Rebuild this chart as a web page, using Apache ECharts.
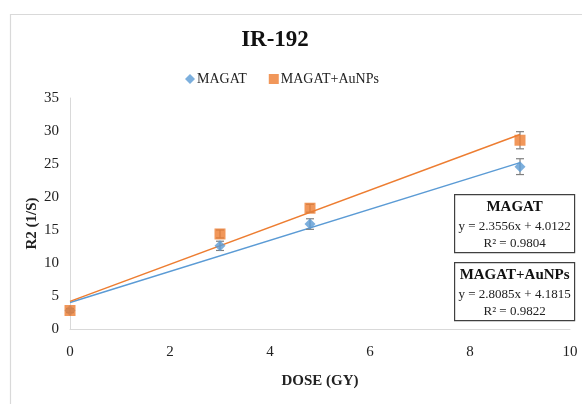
<!DOCTYPE html>
<html>
<head>
<meta charset="utf-8">
<script src="https://cdn.jsdelivr.net/npm/echarts@6/dist/echarts.min.js"></script>
<style>html,body{margin:0;padding:0;background:#fff}#c{width:582px;height:404px}</style>
</head>
<body>
<div id="c"></div>
<script>
var seriesNames = ['MAGAT', 'MAGAT+AuNPs'];
var doses = [0, 3, 4.8, 9];
var magat = [2.8, 12.6, 15.9, 24.6];
var magatErr = [0.3, 0.7, 0.8, 1.2];
var aunps = [2.8, 14.4, 18.3, 28.6];
var aunpsErr = [0.3, 0.6, 0.6, 1.3];
var trendSlope = [2.3556, 2.8085];
var trendIntercept = [4.0122, 4.1815];
var trendR2 = ['0.9804', '0.9822'];
var xTicks = [0, 2, 4, 6, 8, 10];
var yTicks = [0, 5, 10, 15, 20, 25, 30, 35];

var colors = ['#5B9BD5', '#ED7D31'];
var font = '"Liberation Serif", "Times New Roman", serif';

function pts(vals) { return doses.map(function (d, i) { return [d, vals[i]]; }); }
function errData(vals, errs) { return doses.map(function (d, i) { return [d, vals[i] - errs[i], vals[i] + errs[i]]; }); }
function trend(k) {
  var x0 = doses[0], x1 = doses[doses.length - 1];
  return [[x0, trendSlope[k] * x0 + trendIntercept[k]], [x1, trendSlope[k] * x1 + trendIntercept[k]]];
}
function errSeries(vals, errs) {
  return {
    type: 'custom', silent: true, z: 3,
    data: errData(vals, errs),
    renderItem: function (params, api) {
      var lo = api.coord([api.value(0), api.value(1)]);
      var hi = api.coord([api.value(0), api.value(2)]);
      var w = 4;
      var st = { stroke: '#808080', lineWidth: 1.2 };
      return { type: 'group', children: [
        { type: 'line', shape: { x1: lo[0], y1: lo[1], x2: hi[0], y2: hi[1] }, style: st },
        { type: 'line', shape: { x1: lo[0] - w, y1: lo[1], x2: lo[0] + w, y2: lo[1] }, style: st },
        { type: 'line', shape: { x1: hi[0] - w, y1: hi[1], x2: hi[0] + w, y2: hi[1] }, style: st }
      ]};
    }
  };
}
function eqText(k) {
  var s = trendSlope[k].toFixed(4), b = trendIntercept[k].toFixed(4);
  return 'y = ' + s + 'x + ' + b;
}
function box(top, k) {
  return {
    type: 'group', left: 454, top: top,
    children: [
      { type: 'rect', shape: { x: 0, y: 0, width: 120, height: 58 }, style: { fill: '#fff', stroke: '#404040', lineWidth: 1.2 } },
      { type: 'text', x: 60, y: 13, style: { text: seriesNames[k], font: 'bold 15px ' + font, fill: '#111', align: 'center', verticalAlign: 'middle' } },
      { type: 'text', x: 60, y: 32, style: { text: eqText(k), font: '13px ' + font, fill: '#222', align: 'center', verticalAlign: 'middle' } },
      { type: 'text', x: 60, y: 49, style: { text: 'R² = ' + trendR2[k], font: '13px ' + font, fill: '#222', align: 'center', verticalAlign: 'middle' } }
    ]
  };
}

var chart = echarts.init(document.getElementById('c'));
chart.setOption({
  animation: false,
  backgroundColor: '#fff',
  title: { text: 'IR-192', left: 270, textAlign: 'center', top: 24, textStyle: { fontFamily: font, fontSize: 23, fontWeight: 'bold', color: '#111' } },
  legend: {
    top: 67, left: 180, itemGap: 22, itemWidth: 10, itemHeight: 10,
    data: [{ name: seriesNames[0], icon: 'diamond' }, { name: seriesNames[1], icon: 'rect' }],
    textStyle: { fontFamily: font, fontSize: 14, color: '#222', padding: [0, 0, 0, -3] }
  },
  grid: { left: 70, right: 12, top: 98, bottom: 75, containLabel: false },
  xAxis: {
    type: 'value', min: xTicks[0], max: xTicks[xTicks.length - 1], interval: 2,
    name: 'DOSE (GY)', nameLocation: 'middle', nameGap: 45, nameMoveOverlap: false,
    nameTextStyle: { fontFamily: font, fontSize: 15, fontWeight: 'bold', color: '#222' },
    axisLine: { lineStyle: { color: '#d9d9d9', width: 1 } },
    axisTick: { show: false }, splitLine: { show: false },
    axisLabel: { fontFamily: font, fontSize: 15, color: '#222', margin: 16 }
  },
  yAxis: {
    type: 'value', min: yTicks[0], max: yTicks[yTicks.length - 1], interval: 5,
    name: 'R2 (1/S)', nameLocation: 'middle', nameGap: 30, nameMoveOverlap: false,
    nameTextStyle: { fontFamily: font, fontSize: 15, fontWeight: 'bold', color: '#222', padding: [0, 20, 0, 0] },
    axisLine: { show: true, lineStyle: { color: '#d9d9d9', width: 1 } },
    axisTick: { show: false }, splitLine: { show: false },
    axisLabel: { fontFamily: font, fontSize: 15, color: '#222', margin: 11 }
  },
  graphic: [
    { type: 'rect', left: 8, top: 12, shape: { width: 590, height: 410 }, style: { fill: 'none', stroke: '#d9d9d9', lineWidth: 1.2 }, z: -1 },
    box(194, 0),
    box(262, 1)
  ],
  series: [
    { name: seriesNames[0] + ' trend', type: 'line', data: trend(0), showSymbol: false, silent: true, lineStyle: { color: colors[0], width: 1.5 }, z: 2 },
    { name: seriesNames[1] + ' trend', type: 'line', data: trend(1), showSymbol: false, silent: true, lineStyle: { color: colors[1], width: 1.5 }, z: 2 },
    errSeries(magat, magatErr),
    errSeries(aunps, aunpsErr),
    { name: seriesNames[0], type: 'scatter', data: pts(magat), symbol: 'diamond', symbolSize: 11, itemStyle: { color: colors[0] }, z: 4 },
    { name: seriesNames[1], type: 'scatter', data: pts(aunps), symbol: 'rect', symbolSize: 11, itemStyle: { color: colors[1] }, z: 5 }
  ]
});
</script>
</body>
</html>
